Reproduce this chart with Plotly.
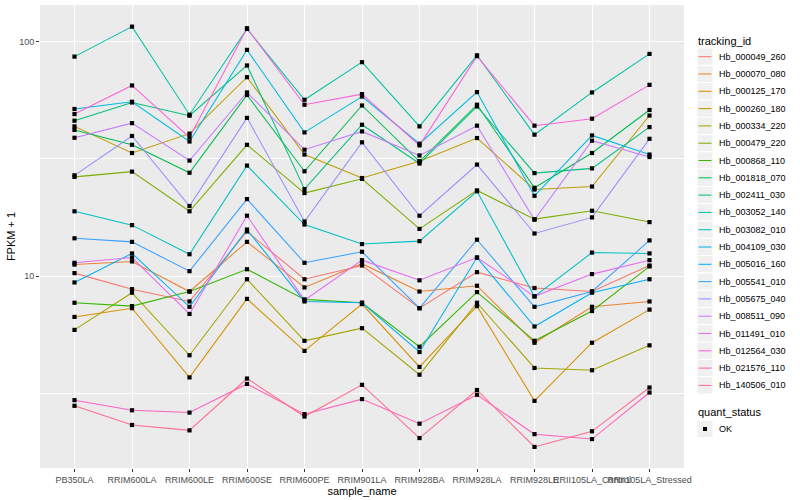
import plotly.graph_objects as go

samples = ["PB350LA", "RRIM600LA", "RRIM600LE", "RRIM600SE", "RRIM600PE",
           "RRIM901LA", "RRIM928BA", "RRIM928LA", "RRIM928LE",
           "RRII105LA_Control", "RRII105LA_Stressed"]

tracking_ids = ["Hb_000049_260", "Hb_000070_080", "Hb_000125_170", "Hb_000260_180",
                "Hb_000334_220", "Hb_000479_220", "Hb_000868_110", "Hb_001818_070",
                "Hb_002411_030", "Hb_003052_140", "Hb_003082_010", "Hb_004109_030",
                "Hb_005016_160", "Hb_005541_010", "Hb_005675_040", "Hb_008511_090",
                "Hb_011491_010", "Hb_012564_030", "Hb_021576_110", "Hb_140506_010"]

colors = ["#F8766D", "#EA8331", "#D89000", "#C09B00", "#A3A500", "#7CAE00",
          "#39B600", "#00BB4E", "#00BF7D", "#00C1A3", "#00BFC4", "#00BAE0",
          "#00B0F6", "#35A2FF", "#9590FF", "#C77CFF", "#E76BF3", "#FA62DB",
          "#FF62BC", "#FF6C91"]

quant_status = ["OK"]

# FPKM + 1 values, one list per tracking_id (order of samples above)
hb_000049_260 = [10.3, 8.8, 7.8, 15.5, 9.7, 11.1, 7.3, 10.4, 8.9, 8.6, 11.1]
hb_000070_080 = [11.2, 11.55, 8.6, 14.0, 8.95, 11.3, 8.6, 9.1, 5.2, 7.4, 7.8]
hb_000125_170 = [6.7, 7.3, 3.7, 8.0, 4.8, 7.6, 4.1, 7.45, 2.94, 5.2, 7.2]
hb_000260_180 = [43.5, 33.5, 40.5, 70.5, 33.0, 26.2, 30.9, 38.8, 23.4, 24.1, 48.4]
hb_000334_220 = [5.9, 8.5, 4.6, 9.7, 5.3, 6.0, 3.8, 7.7, 4.06, 3.97, 5.07]
hb_000479_220 = [26.5, 27.9, 18.9, 36.3, 22.6, 26.0, 15.9, 23.2, 17.5, 19.0, 17.0]
hb_000868_110 = [7.7, 7.45, 8.6, 10.7, 7.96, 7.7, 5.0, 8.55, 5.3, 7.1, 11.0]
hb_001818_070 = [42.0, 36.3, 27.6, 59.2, 28.0, 53.4, 30.8, 53.8, 23.8, 33.5, 51.1]
hb_002411_030 = [46.0, 55.0, 48.3, 79.1, 23.5, 44.2, 30.2, 52.9, 27.5, 28.8, 43.2]
hb_003052_140 = [86.3, 115.8, 48.8, 113.2, 56.5, 81.7, 43.5, 87.4, 40.1, 60.7, 88.6]
hb_003082_010 = [18.9, 16.5, 12.4, 29.6, 16.6, 13.7, 14.1, 23.0, 8.2, 12.6, 12.5]
hb_004109_030 = [51.6, 55.4, 37.5, 92.2, 41.0, 58.3, 36.7, 60.9, 22.0, 39.8, 33.0]
hb_005016_160 = [9.4, 12.5, 7.4, 15.8, 7.8, 7.7, 4.75, 12.0, 6.1, 8.5, 9.7]
hb_005541_010 = [14.5, 14.0, 10.5, 21.3, 11.4, 12.7, 7.3, 14.3, 7.4, 8.6, 14.2]
hb_005675_040 = [26.9, 39.6, 19.9, 47.3, 17.1, 37.2, 18.1, 29.9, 15.2, 17.8, 38.5]
hb_008511_090 = [38.9, 44.9, 31.1, 60.7, 34.6, 41.4, 32.7, 43.8, 17.4, 37.8, 32.2]
hb_011491_010 = [11.4, 12.0, 6.9, 18.1, 7.9, 11.7, 9.6, 12.0, 8.2, 10.2, 11.7]
hb_012564_030 = [49.1, 65.0, 39.0, 114.0, 53.8, 59.7, 36.1, 86.7, 43.8, 46.9, 65.4]
hb_021576_110 = [2.96, 2.68, 2.62, 3.47, 2.58, 2.99, 2.35, 3.12, 2.12, 2.02, 3.19]
hb_140506_010 = [2.80, 2.32, 2.20, 3.66, 2.52, 3.44, 2.04, 3.27, 1.87, 2.18, 3.35]

series_values = [hb_000049_260, hb_000070_080, hb_000125_170, hb_000260_180,
                 hb_000334_220, hb_000479_220, hb_000868_110, hb_001818_070,
                 hb_002411_030, hb_003052_140, hb_003082_010, hb_004109_030,
                 hb_005016_160, hb_005541_010, hb_005675_040, hb_008511_090,
                 hb_011491_010, hb_012564_030, hb_021576_110, hb_140506_010]

FONT = "Liberation Sans, Arial, sans-serif"
W, H = 800, 500
ML, MR, MT, MB = 40, 116, 5, 32
PW, PH = W - ML - MR, H - MT - MB


def px_x(px):
    return (px - ML) / PW


def px_y(py):
    return (H - MB - py) / PH


fig = go.Figure()

# lines
for name, vals, col in zip(tracking_ids, series_values, colors):
    fig.add_trace(go.Scatter(
        x=samples, y=vals, mode="lines", name=name, showlegend=False,
        line=dict(color=col, width=1.05), hoverinfo="skip"))

# points on top
for name, vals in zip(tracking_ids, series_values):
    fig.add_trace(go.Scatter(
        x=samples, y=vals, mode="markers", showlegend=False,
        marker=dict(symbol="square", size=4.2, color="black"),
        hoverinfo="skip"))

# ---- ggplot-style legends built from shapes + text ----
shapes = []
annotations = []
LEG_X0, LEG_X1 = 697, 713
TEXT_X = 717
ROW0, ROW_H = 56.7, 17.3

annotations.append(dict(
    text="tracking_id", x=px_x(696), y=px_y(40.7), xref="paper", yref="paper",
    xanchor="left", yanchor="middle", showarrow=False,
    font=dict(size=11, color="black", family=FONT)))

for i, (name, col) in enumerate(zip(tracking_ids, colors)):
    cy = ROW0 + i * ROW_H
    shapes.append(dict(type="rect", xref="paper", yref="paper",
                       x0=px_x(LEG_X0), x1=px_x(LEG_X1),
                       y0=px_y(cy - ROW_H / 2), y1=px_y(cy + ROW_H / 2),
                       fillcolor="#F0F0F0", line=dict(color="white", width=1),
                       layer="above"))
    shapes.append(dict(type="line", xref="paper", yref="paper",
                       x0=px_x(LEG_X0 + 1.5), x1=px_x(LEG_X1 - 1.5),
                       y0=px_y(cy), y1=px_y(cy),
                       line=dict(color=col, width=1.05)))
    annotations.append(dict(
        text=name, x=px_x(TEXT_X), y=px_y(cy), xref="paper", yref="paper",
        xanchor="left", yanchor="middle", showarrow=False,
        font=dict(size=9, color="black", family=FONT)))

annotations.append(dict(
    text="quant_status", x=px_x(696), y=px_y(412.3), xref="paper", yref="paper",
    xanchor="left", yanchor="middle", showarrow=False,
    font=dict(size=11, color="black", family=FONT)))

for j, q in enumerate(quant_status):
    cy = 429 + j * ROW_H
    shapes.append(dict(type="rect", xref="paper", yref="paper",
                       x0=px_x(LEG_X0), x1=px_x(LEG_X1),
                       y0=px_y(cy - ROW_H / 2), y1=px_y(cy + ROW_H / 2),
                       fillcolor="#F0F0F0", line=dict(color="white", width=1),
                       layer="above"))
    shapes.append(dict(type="rect", xref="paper", yref="paper",
                       x0=px_x(703), x1=px_x(707), y0=px_y(cy - 2), y1=px_y(cy + 2),
                       fillcolor="black", line=dict(width=0)))
    annotations.append(dict(
        text=q, x=px_x(TEXT_X), y=px_y(cy), xref="paper", yref="paper",
        xanchor="left", yanchor="middle", showarrow=False,
        font=dict(size=9, color="black", family=FONT)))

fig.update_layout(
    width=W, height=H,
    margin=dict(l=ML, r=MR, t=MT, b=MB),
    plot_bgcolor="#EBEBEB", paper_bgcolor="white",
    font=dict(family=FONT, color="#000000"),
    showlegend=False,
    shapes=shapes, annotations=annotations,
    xaxis=dict(
        type="category", categoryorder="array", categoryarray=samples,
        range=[-0.6, 10.6], showgrid=True, gridcolor="white", gridwidth=1.07,
        zeroline=False, showline=False, tickangle=0,
        ticks="outside", ticklen=3, tickcolor="#333333", tickwidth=1,
        tickfont=dict(size=9, color="#4D4D4D", family=FONT),
        title=dict(text="sample_name", font=dict(size=11, color="black", family=FONT), standoff=2),
        automargin=False),
    yaxis=dict(
        type="log", range=[0.182, 2.156],
        tickvals=[10, 100], ticktext=["10", "100"],
        showgrid=True, gridcolor="white", gridwidth=1.07,
        zeroline=False, showline=False,
        ticks="outside", ticklen=3, tickcolor="#333333", tickwidth=1,
        tickfont=dict(size=9, color="#4D4D4D", family=FONT),
        minor=dict(tickvals=[3.1623, 31.623], showgrid=True, gridcolor="white",
                   gridwidth=0.55, ticks=""),
        title=dict(text="FPKM + 1", font=dict(size=11, color="black", family=FONT), standoff=1),
        automargin=False),
)

fig.write_html("out.html", config={"displayModeBar": False},
               post_script="document.body.style.margin='0px';")
